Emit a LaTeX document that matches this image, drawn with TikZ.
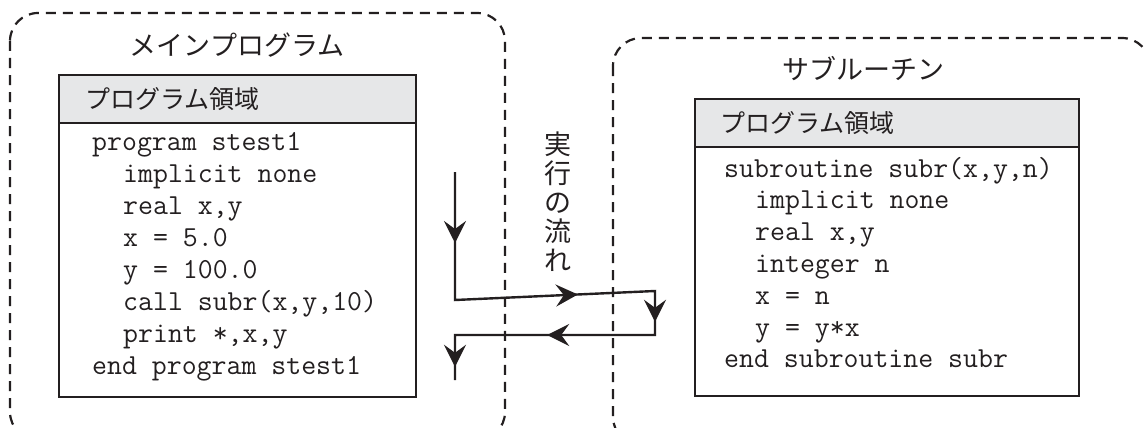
\documentclass[tikz,border=0pt]{standalone}
\usepackage{fontspec}
\setmonofont{Latin Modern Mono}
\newfontfamily\jpfont{Noto Sans CJK JP}
\usetikzlibrary{arrows.meta,decorations.markings}

\definecolor{ink}{HTML}{231F20}
\definecolor{hdrgray}{HTML}{E6E7E8}

\tikzset{
  flowtip/.tip={Stealth[length=22pt,width=22pt,inset=8pt]},
  areabox/.style={draw=ink, line width=2.2pt, dash pattern=on 10pt off 7pt, rounded corners=28pt},
  progbox/.style={draw=ink, line width=2.8pt},
  hdrbox/.style={progbox, fill=hdrgray},
  jptitle/.style={font=\jpfont\fontsize{27}{30}\selectfont, text=ink, inner sep=0pt},
  jphdr/.style={font=\jpfont\fontsize{25}{28}\selectfont, text=ink, inner sep=0pt, anchor=west},
  codeline/.style={font=\ttfamily\fontsize{29}{32}\selectfont, text=ink, inner sep=0pt, anchor=base west},
  flowline/.style={draw=ink, line width=2.4pt, line join=miter,
    decoration={markings,
      mark=at position 71pt with {\arrow{flowtip}},
      mark=at position 251pt with {\arrow{flowtip}},
      mark=at position 359pt with {\arrow{flowtip}},
      mark=at position 480pt with {\arrow{flowtip}},
      mark=at position 604pt with {\arrow{flowtip}}},
    postaction={decorate}}
}

\begin{document}
\begin{tikzpicture}[x=1pt,y=-1pt]
  \useasboundingbox (0,0) rectangle (1145,428);

  % dashed areas
  \draw[areabox] (10,13) rectangle (505,440);
  \draw[areabox] (613,38) rectangle (1150,445);

  % titles
  \node[jptitle] (mainttl) at (237,45) {メインプログラム};
  \node[jptitle] (subttl) at (863,69) {サブルーチン};

  % main program box
  \draw[hdrbox] (59,75) rectangle (416,123);
  \draw[progbox] (59,123) rectangle (416,397);
  \node[jphdr] (mainhdr) at (85,99) {プログラム領域};
  \foreach \ind/\txt [count=\i] in {0/{program stest1}, 1/{implicit none},
      1/{real x,y}, 1/{x = 5.0}, 1/{y = 100.0}, 1/{call subr(x,y,10)},
      1/{print *,x,y}, 0/{end program stest1}}
    \node[codeline] (main\i) at ({92+31*\ind},{150+32*(\i-1)}) {\txt};

  % subroutine box
  \draw[hdrbox] (695,99) rectangle (1079,147);
  \draw[progbox] (695,147) rectangle (1079,396);
  \node[jphdr] (subhdr) at (720,123) {プログラム領域};
  \foreach \ind/\txt [count=\i] in {0/{subroutine subr(x,y,n)}, 1/{implicit none},
      1/{real x,y}, 1/{integer n}, 1/{x = n}, 1/{y = y*x},
      0/{end subroutine subr}}
    \node[codeline] (sub\i) at ({724+31*\ind},{177+31.8*(\i-1)}) {\txt};

  % flow of execution
  \node[jptitle, align=center, font=\jpfont\fontsize{27}{29}\selectfont] (flowlbl) at (558,202)
    {実\\行\\の\\流\\れ};
  \coordinate (f0) at (455,172);
  \coordinate (f1) at (455,300);
  \coordinate (f2) at (655,291);
  \coordinate (f3) at (655,335);
  \coordinate (f4) at (455,335);
  \coordinate (f5) at (455,380);
  \draw[flowline] (f0) -- (f1) -- (f2) -- (f3) -- (f4) -- (f5);
\end{tikzpicture}
\end{document}
